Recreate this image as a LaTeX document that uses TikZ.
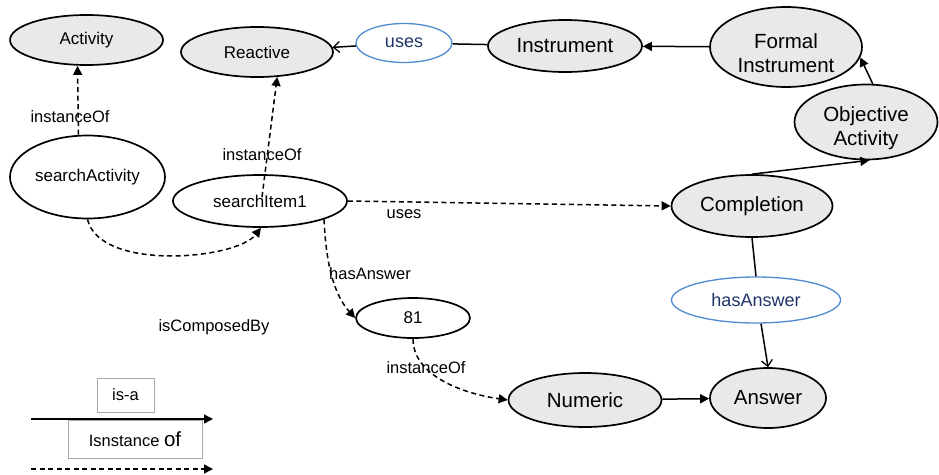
\documentclass[tikz,border=0pt]{standalone}
\usepackage{fontspec}
\setmainfont{Liberation Sans}
\usetikzlibrary{shapes.geometric,arrows.meta}
\definecolor{nodegray}{HTML}{E9E9E9}
\definecolor{relblue}{HTML}{4F8BD0}
\definecolor{reltext}{HTML}{1E3466}
\definecolor{boxgray}{HTML}{A8A8A8}
% two-line labels sit a little below the middle of their ellipse
\newcommand{\lowline}[1]{\raisebox{-6pt}[\height][\depth]{#1}}

\begin{document}
\begin{tikzpicture}[x=1pt,y=-1pt,
  base/.style={ellipse, draw=black, line width=1.7pt, inner sep=0pt, align=center},
  bigconcept/.style={base, fill=nodegray, font=\fontsize{20.5}{24}\selectfont},
  smallconcept/.style={base, fill=nodegray, font=\fontsize{17}{20}\selectfont},
  individual/.style={base, fill=white, font=\fontsize{17}{20}\selectfont},
  relation/.style={base, draw=relblue, line width=1.3pt, fill=white, text=reltext, font=\fontsize{18}{21}\selectfont},
  edgelabel/.style={font=\fontsize{16.5}{19}\selectfont, inner sep=0pt},
  legendbox/.style={draw=boxgray, line width=0.8pt, fill=white, inner sep=0pt, font=\fontsize{16.5}{19}\selectfont},
  link/.style={line width=1.5pt},
  instlink/.style={line width=1.5pt, dash pattern=on 5pt off 3.5pt},
  tip/.style={-{Triangle[length=9pt,width=9pt]}},
  opentip/.style={-{Straight Barb[length=6pt,width=11pt,line width=1.3pt]}}
]
\useasboundingbox (0,0) rectangle (939,474);

% classes and individuals
\node[smallconcept, minimum width=153, minimum height=50] (act)  at (86.5,40)  {Activity};
\node[smallconcept, minimum width=152, minimum height=50] (reac) at (257,52)   {Reactive};
\node[relation,     minimum width=96,  minimum height=39] (uses) at (404,43)   {uses};
\node[bigconcept,   minimum width=154, minimum height=52] (instr) at (565,46)  {Instrument};
\node[bigconcept,   minimum width=152, minimum height=80] (fi)   at (786,47)   {\lowline{Formal}\\\lowline{Instrument}};
\node[bigconcept,   minimum width=143, minimum height=75] (oa)   at (866,122)  {\lowline{Objective}\\\lowline{Activity}};
\node[bigconcept,   minimum width=161, minimum height=62] (comp) at (752,206)  {Completion};
\node[individual,   minimum width=155, minimum height=83] (sa)   at (87.5,177) {searchActivity};
\node[individual,   minimum width=174, minimum height=52] (si)   at (260,201)  {searchItem1};
\node[individual,   minimum width=114, minimum height=40] (n81)  at (413,318)  {81};
\node[relation,     minimum width=169, minimum height=46] (ha)   at (756,300)  {hasAnswer};
\node[bigconcept,   minimum width=153, minimum height=54] (num)  at (585,400)  {Numeric};
\node[bigconcept,   minimum width=116, minimum height=60] (ans)  at (768,398)  {Answer};

% is-a and relation links
\draw[link, opentip] (uses) -- (reac);
\draw[link] (instr) -- (uses);
\draw[link, tip] (fi) -- (instr);
\draw[link, tip] (oa.80) -- (fi.-8);
\draw[link, tip] (comp.north) -- (oa.-85);
\draw[link] (comp.south) -- (ha.north);
\draw[link, opentip] ([xshift=5]ha.south) -- (ans.north);
\draw[link, tip] (num) -- (ans);

% instance links
\draw[instlink, tip] ([xshift=-9]sa.north) -- ([xshift=-9]act.south);
\draw[instlink, tip] ([shift={(2,-4)}]si.center) -- (reac.-51);
\draw[instlink, tip] (si.east) -- (comp.west);
\draw[instlink, tip] (si.-16) .. controls +(2,48) and +(-20,-22) .. (n81.west);
\draw[instlink, tip] (n81.south) .. controls +(0,38) and +(-42,-6) .. (num.west);
\draw[instlink, tip] (sa.south) .. controls +(12,52) and +(-25,32) .. (si.-88);

% link labels
\node[edgelabel] (l1) at (70,117)  {instanceOf};
\node[edgelabel] (l2) at (262,155) {instanceOf};
\node[edgelabel] (l3) at (404,214) {uses};
\node[edgelabel] (l4) at (370,274) {hasAnswer};
\node[edgelabel] (l5) at (426,368) {instanceOf};
\node[edgelabel] (l6) at (214,327) {isComposedBy};

% legend
\coordinate (la) at (31,419);
\coordinate (lb) at (213,419);
\coordinate (lc) at (31,469);
\coordinate (ld) at (213,469);
\node[legendbox, minimum width=57, minimum height=34] (isa) at (125.5,395) {is-a};
\draw[line width=1.4pt, tip] (la) -- (lb);
\node[legendbox, minimum width=134, minimum height=38] (inst) at (135,439) {Isnstance {\fontsize{20.5}{22}\selectfont of}};
\draw[instlink, tip] (lc) -- (ld);
\end{tikzpicture}
\end{document}
